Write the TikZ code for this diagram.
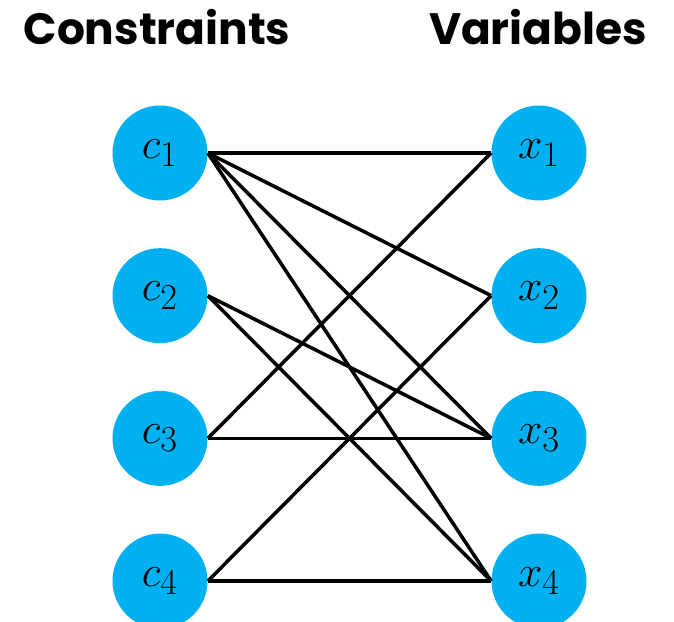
\documentclass[tikz,border=0pt]{standalone}
\usepackage{fontspec}
\setsansfont{Poppins}
\usetikzlibrary{positioning}
\definecolor{nodeblue}{HTML}{00B0F0}

\begin{document}
\begin{tikzpicture}[
	x=0.02cm, y=-0.02cm,
	node distance=0.94cm,
	var/.style={circle, fill=nodeblue, minimum size=1.9cm, inner sep=0pt, font=\fontsize{29}{32}\selectfont},
	title/.style={anchor=base, font=\sffamily\bfseries\fontsize{25}{28}\selectfont},
	link/.style={line width=2pt, black}
]
\useasboundingbox (0,0) rectangle (674,622);

% --- Headings ---
\node[title] (hcons) at (157,45) {Constraints};
\node[title] (hvars) at (538,45) {Variables};

% --- Constraint nodes ---
\node[var] (c1) at (160,153) {$c_1$};
\node[var, below=of c1] (c2) {$c_2$};
\node[var, below=of c2] (c3) {$c_3$};
\node[var, below=of c3] (c4) {$c_4$};

% --- Variable nodes ---
\node[var] (x1) at (539,153) {$x_1$};
\node[var, below=of x1] (x2) {$x_2$};
\node[var, below=of x2] (x3) {$x_3$};
\node[var, below=of x3] (x4) {$x_4$};

% --- Edges ---
\foreach \x in {1,2,3,4}
	\draw[link] (c1.east) -- (x\x.west);
\draw[link] (c2.east) -- (x3.west);
\draw[link] (c2.east) -- (x4.west);
\draw[link] (c3.east) -- (x1.west);
\draw[link] (c3.east) -- (x3.west);
\draw[link] (c4.east) -- (x2.west);
\draw[link] (c4.east) -- (x4.west);

\end{tikzpicture}
\end{document}
